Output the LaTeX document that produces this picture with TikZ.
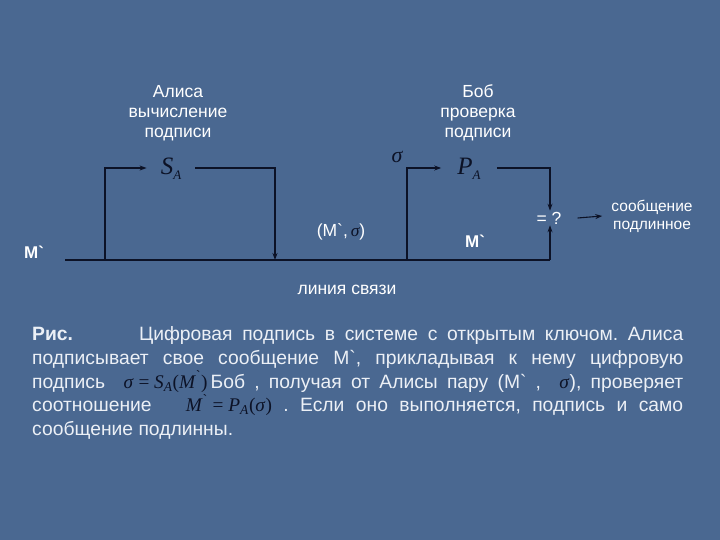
\documentclass[tikz,border=0pt]{standalone}
\usepackage{fontspec}
\setmainfont{Liberation Sans}
\newfontfamily\plainsans{Liberation Sans}
\newfontfamily\tms{Liberation Serif}
\usetikzlibrary{arrows.meta}
\definecolor{bg}{RGB}{74,104,145}
\definecolor{ink}{RGB}{12,18,38}
\definecolor{capt}{RGB}{236,240,246}
\newcommand{\grv}{{\plainsans\char"60}}
\newcommand{\cmath}[1]{\mbox{\color{ink}\tms #1}}
\newcommand{\sbs}[1]{\raisebox{-0.45ex}{\fontsize{13}{14}\selectfont #1}}
\tikzset{
  lbl/.style={text=white, font=\fontsize{17.5}{20}\selectfont, align=center, inner sep=1pt},
  mth/.style={text=ink, font=\tms\itshape\fontsize{25}{28}\selectfont, inner ysep=1pt},
  wire/.style={draw=ink, line width=1.1pt},
  arr/.style={wire, -{Stealth[length=7pt,width=5pt]}},
}
\begin{document}
\begin{tikzpicture}[x=1pt,y=-1pt]
\fill[bg] (0,0) rectangle (720,540);
\useasboundingbox (0,0) rectangle (720,540);
% titles
\node[lbl] (alice) at (178,113) {Алиса\\вычисление\\подписи};
\node[lbl] (bob) at (478,113) {Боб\\проверка\\подписи};
% math nodes
\node[mth, inner xsep=14pt] (SA) at (171,169) {S\sbs{A}};
\node[mth, inner xsep=16pt] (PA) at (469,169) {P\sbs{A}};
\node[mth, font=\tms\itshape\fontsize{22}{24}\selectfont] (sig) at (397,157) {σ};
% coordinates
\coordinate (l0) at (65,260);
\coordinate (l1) at (550,260);
\coordinate (a0) at (105,260);
\coordinate (a1) at (105,168);
\coordinate (a2) at (275,168);
\coordinate (a3) at (275,260);
\coordinate (b0) at (407,260);
\coordinate (b1) at (407,168);
\coordinate (b2) at (550,168);
\node[lbl] (eq) at (549,218) {= ?};
\node[lbl, font=\fontsize{15.5}{18}\selectfont] (msg) at (652,216) {сообщение\\подлинное};
% wires
\draw[wire] (l0) -- (l1);
\draw[arr] (a0) -- (a1) -- (a1 -| SA.west);
\draw[arr] (a2 -| SA.east) -- (a2) -- (a3);
\draw[arr] (b0) -- (b1) -- (b1 -| PA.west);
\draw[arr] (b2 -| PA.east) -- (b2) -- (b2 |- eq.north);
\draw[arr] (l1) -- (l1 |- eq.south);
\draw[arr] ([xshift=15pt]eq.east) -- ([xshift=-8pt]msg.west);
% labels
\node[lbl] (pair) at (341,232) {(M\grv,\,\textcolor{ink}{\tms\itshape σ})};
\node[lbl, font=\bfseries\fontsize{17}{20}\selectfont] (mL) at (34,252) {M\grv};
\node[lbl, font=\bfseries\fontsize{17}{20}\selectfont] (mB) at (475,241) {M\grv};
\node[lbl] (line) at (347,290) {линия связи};
% caption
\node[anchor=north west, inner sep=0pt, text=capt, font=\fontsize{19.3}{23.7}\selectfont] (cap) at (32,326.5) {\parbox{651pt}{\frenchspacing
\textbf{Рис.}\hspace*{66pt}Цифровая подпись в системе с открытым ключом. Алиса\linebreak
подписывает свое сообщение М\grv, прикладывая к нему цифровую\linebreak
подпись \ \cmath{\textit{σ} = \textit{S}\textsubscript{\textit{A}}(\textit{M}\textsuperscript{\grv})}\,Боб , получая от Алисы пару (М\grv\ , \ \cmath{\textit{σ}}), проверяет\linebreak
соотношение \ \ \cmath{\textit{M}\textsuperscript{\grv} = \textit{P}\textsubscript{\textit{A}}(\textit{σ})} . Если оно выполняется, подпись и само\linebreak
сообщение подлинны.}};
\end{tikzpicture}
\end{document}
